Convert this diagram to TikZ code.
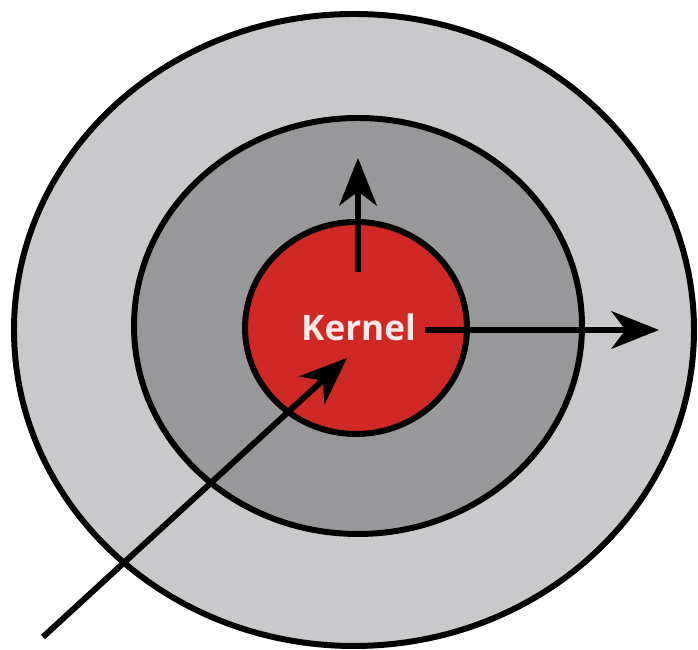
\documentclass[tikz,border=0pt]{standalone}
\usepackage{fontspec}
\setmainfont{Open Sans}
\usetikzlibrary{shapes.geometric,arrows.meta}
\definecolor{ringouter}{RGB}{201,201,204}
\definecolor{ringmid}{RGB}{152,152,155}
\definecolor{kernelred}{RGB}{208,40,36}
\definecolor{kerneltext}{RGB}{252,232,230}
\begin{document}
\begin{tikzpicture}[
  ring/.style={ellipse, draw=black, line width=3.4pt, inner sep=0pt},
  call/.style={line width=3.4pt, -{Stealth[length=9.5mm, width=7.5mm, inset=2.8mm]}}
]
  \useasboundingbox (0,0) rectangle (13.96,13.00);

  % Rings
  \node[ring, fill=ringouter, minimum width=13.6cm, minimum height=12.64cm] (user) at (7.08, 6.40) {};
  \node[ring, fill=ringmid, minimum width=8.96cm, minimum height=8.32cm] (service) at (7.16, 6.48) {};
  \node[ring, fill=kernelred, minimum width=4.44cm, minimum height=4.24cm] (kernel) at (7.12, 6.44) {};
  \node[text=kerneltext, font=\fontsize{20}{24}\selectfont\bfseries] (klabel) at (7.17, 6.46) {Kernel};

  % Arrow ends
  \coordinate (upstart) at (7.16, 7.56);
  \coordinate (uptip) at (7.16, 9.84);
  \coordinate (righttip) at (13.18, 6.40);
  \coordinate (instart) at (0.86, 0.26);
  \coordinate (intip) at (6.94, 5.84);

  % Calls
  \draw[call] (upstart) -- (uptip);
  \draw[call] (klabel.east |- user.center) ++(0.05,0) -- (righttip);
  \draw[call] (instart) -- (intip);
\end{tikzpicture}
\end{document}
